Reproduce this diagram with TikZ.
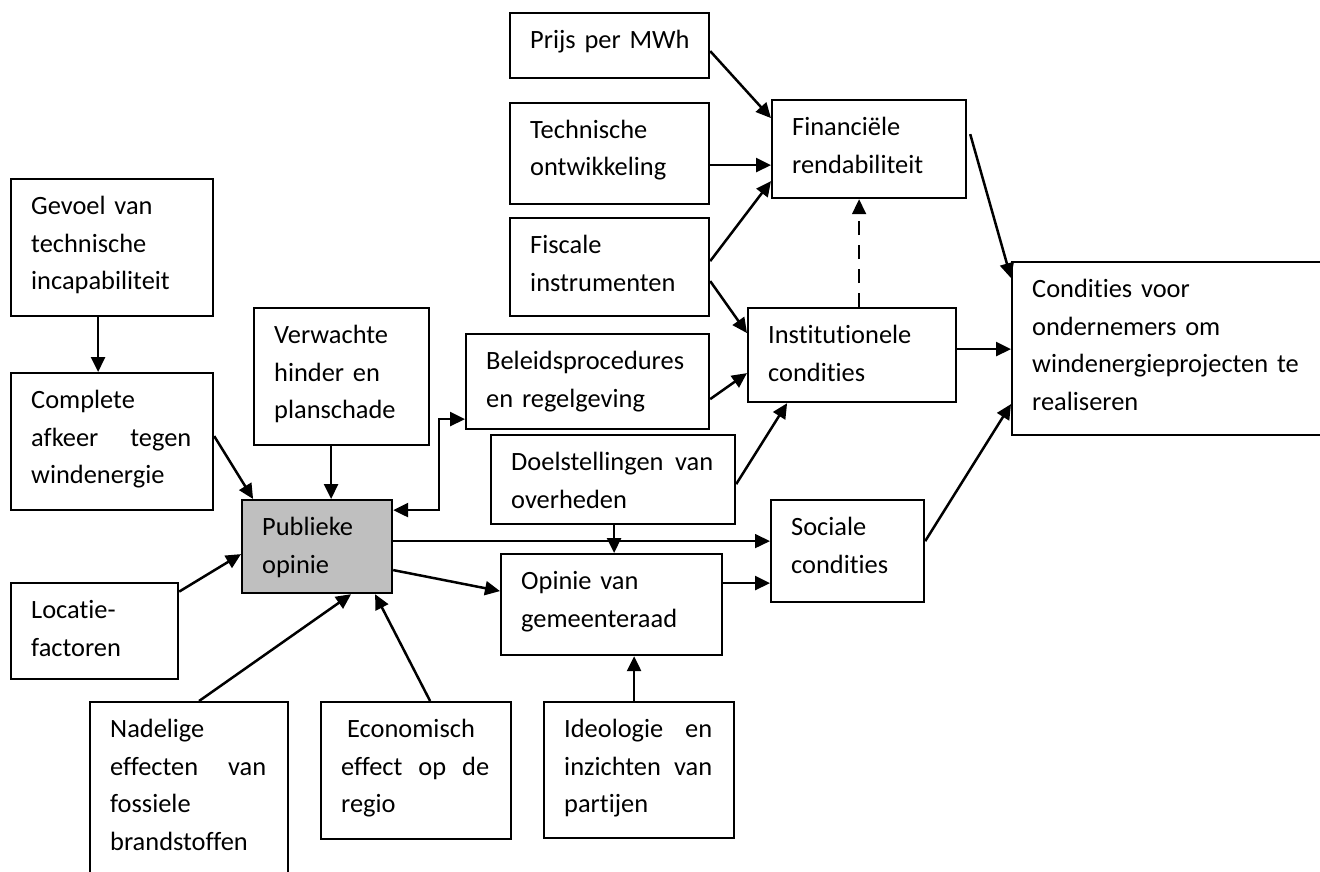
\documentclass[tikz,border=0pt]{standalone}
\usepackage{fontspec}
\setmainfont{Carlito}[Ligatures=NoCommon]
\usetikzlibrary{arrows.meta}
\definecolor{pubgray}{RGB}{191,191,191}
\newcommand\jl[1]{\leavevmode\hbox to \tw pt{\spaceskip=0.226em plus 1fil\relax #1}}
\tikzset{
  boxst/.style={draw=black, line width=2.2pt, rectangle, inner sep=0pt, anchor=north west},
  txtst/.style={inner sep=0pt, align=left, anchor=base west, font=\fontsize{26.4}{37.5}\selectfont},
  arr/.style={line width=2.5pt, -{Triangle[length=15pt,width=14pt]}},
  thinarr/.style={line width=1.6pt, -{Triangle[length=15pt,width=14pt]}},
  dbl/.style={line width=2.5pt, {Triangle[length=15pt,width=14pt]}-{Triangle[length=15pt,width=14pt]}},
  dasharr/.style={line width=1.8pt, dash pattern=on 14pt off 10pt, -{Triangle[length=15pt,width=14pt]}}
}
\newcommand\mybox[7][]{%
  \pgfmathsetmacro\bw{#5-#3}%
  \pgfmathsetmacro\bh{#6-#4}%
  \pgfmathsetmacro\tw{#5-#3-42}%
  \node[boxst,#1,minimum width=\bw pt,minimum height=\bh pt] (#2) at (#3,#4) {};
  \node[txtst,text width=\tw pt] (#2-t) at (#3+21,#4+36.5) {#7};
}
\begin{document}
\begin{tikzpicture}[x=1pt,y=-1pt]
\clip (0,0) rectangle (1320,872);
\fill[white] (0,0) rectangle (1320,872);

\mybox{prijs}{509}{12}{708}{77}{\mbox{Prijs per MWh}}
\mybox{tech}{509}{102}{708}{203}{Technische\\ontwikkeling}
\mybox{fisc}{509}{217}{708}{315}{Fiscale\\instrumenten}
\mybox{fin}{771}{99}{965}{197}{Financiële\\rendabiliteit}
\mybox{gevoel}{10}{178}{212}{315}{Gevoel van\\technische\\incapabiliteit}
\mybox{complete}{10}{372}{212}{509}{Complete\\\jl{afkeer tegen}\\windenergie}
\mybox{verw}{253}{307}{428}{444}{Verwachte\\hinder en\\planschade}
\mybox{beleid}{465}{333}{708}{428}{Beleidsprocedures\\en regelgeving}
\mybox{inst}{747}{307}{955}{401}{Institutionele\\condities}
\mybox{doel}{490}{434}{734}{523}{\jl{Doelstellingen van}\\overheden}
\mybox{cond}{1011}{261}{1340}{434}{Condities voor\\ondernemers om\\windenergieprojecten te\\realiseren}
\mybox[fill=pubgray]{pub}{241}{499}{391}{592}{Publieke\\opinie}
\mybox{soc}{770}{499}{923}{601}{Sociale\\condities}
\mybox{loc}{10}{582}{177}{678}{Locatie-\\factoren}
\mybox{opin}{500}{553}{721}{654}{Opinie van\\gemeenteraad}
\mybox{nad}{89}{701}{287}{900}{Nadelige\\\jl{effecten van}\\fossiele\\brandstoffen}
\mybox{eco}{320}{701}{510}{838}{\hspace*{6pt}Economisch\\\jl{effect op de}\\regio}
\mybox{ideo}{543}{701}{733}{837}{\jl{Ideologie en}\\\jl{inzichten van}\\partijen}

% connectors
\draw[arr] ([yshift=-5.5]prijs.east) -- ([yshift=31]fin.west);
\draw[arr] ([yshift=-11.5]tech.east) -- ([yshift=-16]fin.west);
\draw[arr] ([yshift=6]fisc.east) -- ([yshift=-32]fin.west);
\draw[arr] ([yshift=-14]fisc.east) -- ([yshift=22]inst.west);
\draw[arr] ([yshift=-17.5]beleid.east) -- ([yshift=-18]inst.west);
\draw[arr] ([yshift=-4.5]doel.east) -- ([xshift=-65]inst.south);
\draw[dasharr] ([xshift=7]inst.north) -- ([xshift=-10]fin.south);
\draw[arr] ([xshift=3,yshift=15]fin.east) -- ([yshift=70.5]cond.west);
\draw[arr] ([yshift=6]inst.east) -- ([yshift=-0.5]cond.west);
\draw[arr] ([yshift=10]soc.east) -- ([yshift=-55.5]cond.west);
\draw[arr] ([xshift=-14]gevoel.south) -- ([xshift=-14]complete.north);
\draw[arr] ([yshift=5.5]complete.east) -- ([xshift=-64]pub.north);
\draw[arr] ([xshift=-10.5]verw.south) -- ([xshift=14]pub.north);
\draw[dbl] ([yshift=36.5]pub.east) -| ([xshift=-26,yshift=-37.5]beleid.west) -- ([yshift=-37.5]beleid.west);
\draw[arr] ([yshift=39.5]loc.east) -- ([yshift=-7.5]pub.west);
\draw[thinarr] ([yshift=5.5]pub.east) -- ([yshift=10]soc.west);
\draw[arr] ([yshift=-23.5]pub.east) -- ([yshift=13.5]opin.west);
\draw[arr] ([xshift=1]doel.south) -- ([xshift=2.5]opin.north);
\draw[arr] ([yshift=21.5]opin.east) -- ([yshift=-32]soc.west);
\draw[arr] ([xshift=-5]ideo.north) -- ([xshift=22.5]opin.south);
\draw[arr] ([xshift=10]nad.north) -- ([xshift=34]pub.south);
\draw[arr] ([xshift=14]eco.north) -- ([xshift=58]pub.south);
\end{tikzpicture}
\end{document}
